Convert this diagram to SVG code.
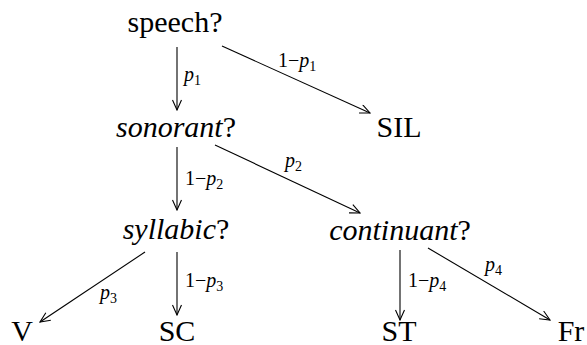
<svg xmlns="http://www.w3.org/2000/svg" width="587" height="345" viewBox="0 0 587 345">
<defs>
<marker id="ah" viewBox="-11 -5 12 10" markerWidth="12" markerHeight="10" refX="0" refY="0" orient="auto" markerUnits="userSpaceOnUse">
<path d="M-10,-4.5 L0,0 L-10,4.5" fill="none" stroke="#000" stroke-width="1.1"/>
</marker>
</defs>
<g id="connectors">
<g stroke="#000" stroke-width="1.1" fill="none" marker-end="url(#ah)">
<line x1="177" y1="47" x2="177" y2="110"/>
<line x1="222" y1="46" x2="370" y2="113"/>
<line x1="177" y1="147" x2="177" y2="210"/>
<line x1="215" y1="145" x2="360" y2="213"/>
<line x1="145" y1="252" x2="40" y2="322"/>
<line x1="177" y1="252" x2="177" y2="315"/>
<line x1="400" y1="250" x2="400" y2="320"/>
<line x1="428" y1="248" x2="550" y2="320"/>
</g>
<g font-size="20" fill="#000">
<text font-family="serif" x="184" y="81"><tspan font-style="italic">p</tspan><tspan font-size="14" dy="4">1</tspan></text>
<text font-family="serif" x="278" y="67">1&#8722;<tspan font-style="italic">p</tspan><tspan font-size="14" dy="4">1</tspan></text>
<text font-family="serif" x="185" y="185">1&#8722;<tspan font-style="italic">p</tspan><tspan font-size="14" dy="4">2</tspan></text>
<text font-family="serif" x="285" y="167"><tspan font-style="italic">p</tspan><tspan font-size="14" dy="4">2</tspan></text>
<text font-family="serif" x="100" y="299"><tspan font-style="italic">p</tspan><tspan font-size="14" dy="4">3</tspan></text>
<text font-family="serif" x="185" y="287">1&#8722;<tspan font-style="italic">p</tspan><tspan font-size="14" dy="4">3</tspan></text>
<text font-family="serif" x="408" y="287">1&#8722;<tspan font-style="italic">p</tspan><tspan font-size="14" dy="4">4</tspan></text>
<text font-family="serif" x="485" y="271"><tspan font-style="italic">p</tspan><tspan font-size="14" dy="4">4</tspan></text>
</g>
</g>
<g font-size="30" fill="#000" text-anchor="middle">
<g id="speech"><text font-family="serif" x="175" y="32">speech?</text></g>
<g id="sonorant"><text font-family="serif" x="176" y="137"><tspan font-style="italic">sonorant</tspan>?</text></g>
<g id="SIL"><text font-family="serif" x="399" y="137">SIL</text></g>
<g id="syllabic"><text font-family="serif" x="176" y="239"><tspan font-style="italic">syllabic</tspan>?</text></g>
<g id="continuant"><text font-family="serif" x="400" y="240"><tspan font-style="italic">continuant</tspan>?</text></g>
<g id="V"><text font-family="serif" x="22" y="341">V</text></g>
<g id="SC"><text font-family="serif" x="177" y="341">SC</text></g>
<g id="ST"><text font-family="serif" x="399" y="341">ST</text></g>
<g id="Fr"><text font-family="serif" x="571" y="341">Fr</text></g>
</g>
</svg>
